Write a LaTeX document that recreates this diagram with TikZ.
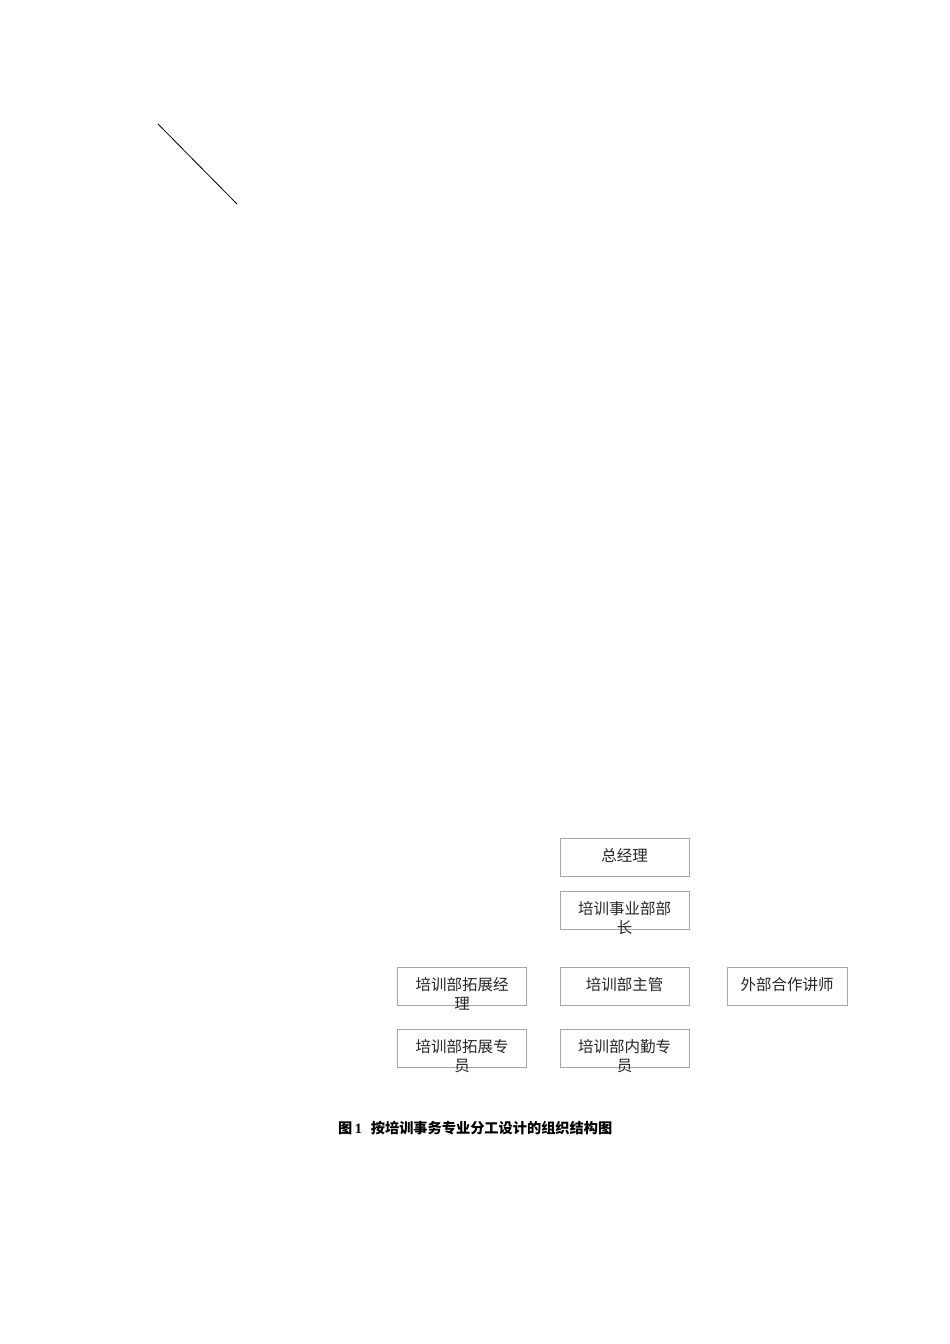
\documentclass[tikz,border=0pt]{standalone}
\usepackage{fontspec}
\setmainfont{Liberation Serif}
\newfontfamily\cjk{Noto Sans CJK SC}
\begin{document}
\begin{tikzpicture}[x=1pt,y=-1pt,
  orgbox/.style={draw=black!35, line width=0.9pt, minimum width=129pt, minimum height=38pt, inner sep=0pt},
  widebox/.style={orgbox, minimum width=120pt},
  boxtext/.style={anchor=north, inner sep=0pt, align=center, text=black!85,
    font=\cjk\fontsize{15.5}{19}\selectfont, yshift=-10.5pt},
  caption/.style={anchor=west, inner sep=0pt, font=\bfseries\fontsize{14.2}{16}\selectfont}]
\useasboundingbox (0,0) rectangle (950,1344);
% diagonal line
\coordinate (la) at (158,124);
\coordinate (lb) at (237,204);
\draw[line width=0.8pt] (la) -- (lb);
% boxes
\node[orgbox] (gm) at (624.5,857) {};
\node[boxtext] (gmt) at (gm.north) {总经理};
\node[orgbox] (dh) at (624.5,910) {};
\node[boxtext] (dht) at (dh.north) {培训事业部部\\长};
\node[orgbox] (em) at (462,986) {};
\node[boxtext] (emt) at (em.north) {培训部拓展经\\理};
\node[orgbox] (sv) at (624.5,986) {};
\node[boxtext] (svt) at (sv.north) {培训部主管};
\node[widebox] (lt) at (787,986) {};
\node[boxtext] (ltt) at (lt.north) {外部合作讲师};
\node[orgbox] (es) at (462,1048) {};
\node[boxtext] (est) at (es.north) {培训部拓展专\\员};
\node[orgbox] (is) at (624.5,1048) {};
\node[boxtext] (ist) at (is.north) {培训部内勤专\\员};
% caption
\node[caption] (cap) at (338,1128) {{\cjk\bfseries 图}\,1\hspace{9pt}{\cjk\bfseries 按培训事务专业分工设计的组织结构图}};
\end{tikzpicture}
\end{document}
